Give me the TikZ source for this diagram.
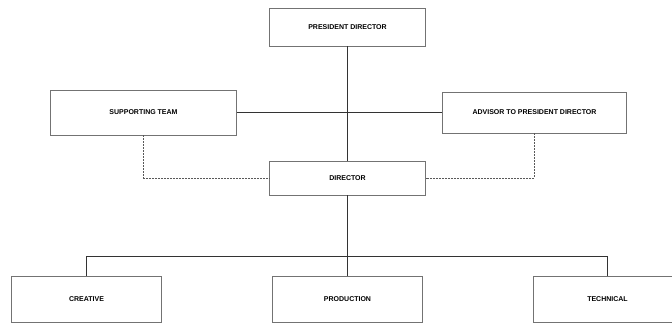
\documentclass[tikz,border=0pt]{standalone}
\usepackage{fontspec}
\setmainfont{Liberation Sans}
\usetikzlibrary{positioning}
\begin{document}
\begin{tikzpicture}[
    x=1pt, y=-1pt,
    box/.style={rectangle, draw=black!55, line width=0.8pt, fill=white,
               inner sep=0pt, font=\fontsize{7}{8}\selectfont\bfseries},
    link/.style={draw=black!80, line width=0.7pt},
    dashed_link/.style={draw=black!65, line width=0.6pt, dashed, dash pattern=on 2pt off 1pt}
]
\useasboundingbox (0,0) rectangle (672,323);

% Top of the chart
\node[box, minimum width=156pt, minimum height=38pt] (president) at (347.5,27) {PRESIDENT DIRECTOR};
\node[box, minimum width=186pt, minimum height=45pt] (support) at (143.5,112.5) {SUPPORTING TEAM};
\node[box, minimum width=184pt, minimum height=41pt] (advisor) at (534.5,112.5) {ADVISOR TO PRESIDENT DIRECTOR};
\node[box, minimum width=156pt, minimum height=34pt] (director) at (347.5,178) {DIRECTOR};

% Departments
\node[box, minimum width=150pt, minimum height=46pt] (creative) at (86.5,299) {CREATIVE};
\node[box, minimum width=150pt, minimum height=46pt] (production) at (347.5,299) {PRODUCTION};
\node[box, minimum width=148pt, minimum height=46pt] (technical) at (607.5,299) {TECHNICAL};

% Helper points
\coordinate (bar) at (347.5,256.5);
\coordinate (staff) at (347.5,112.5);

% Solid lines
\draw[link] (president.south) -- (director.north);
\draw[link] (support.east |- staff) -- (advisor.west |- staff);
\draw[link] (director.south) -- (bar) -- (production.north);
\draw[link] (creative.north) |- (bar) -| (technical.north);

% Dashed lines
\draw[dashed_link] (support.south) |- (director.west);
\draw[dashed_link] (advisor.south) |- (director.east);

\end{tikzpicture}
\end{document}
